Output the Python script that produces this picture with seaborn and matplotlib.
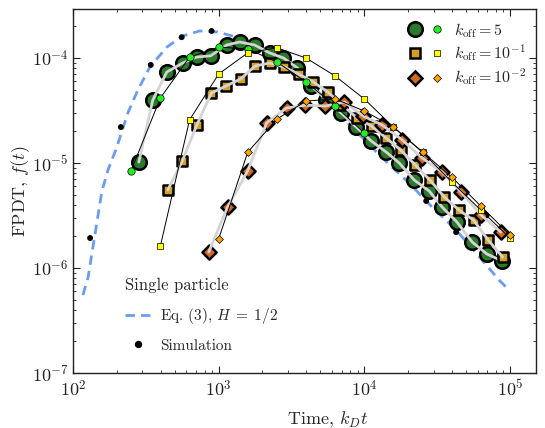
import numpy as np
import pandas as pd
import matplotlib
matplotlib.use("Agg")
import matplotlib.pyplot as plt
import seaborn as sns
from matplotlib.ticker import LogLocator, FuncFormatter, NullFormatter
from matplotlib.legend_handler import HandlerTuple
from matplotlib.lines import Line2D

# ---------------- data ----------------
# Eq. (3), H = 1/2  (single particle theory)
theory_t = [117, 127, 137, 158, 174, 200, 238, 279, 337, 441, 566, 741, 984, 1327,
            1910, 2620, 3590, 4920, 6950, 13100, 20300, 29200, 42700, 58500, 84100, 98500]
theory_f = [5.53e-7, 8.2e-7, 1.58e-6, 5.4e-6, 8.6e-6, 1.42e-5, 3.0e-5, 4.96e-5, 8.2e-5,
            1.27e-4, 1.62e-4, 1.81e-4, 1.77e-4, 1.58e-4, 1.27e-4, 9.57e-5, 7.04e-5,
            4.64e-5, 2.8e-5, 1.14e-5, 6.45e-6, 3.81e-6, 2.3e-6, 1.39e-6, 7.7e-7, 6.17e-7]

# single particle simulation
sim_t = [131, 213, 342, 558, 895, 26600, 42700]
sim_f = [1.93e-6, 2.2e-5, 8.6e-5, 1.58e-4, 1.81e-4, 4.35e-6, 2.2e-6]

# k_off = 5 : big markers
k5_big_t = [283, 353, 441, 566, 706, 881, 1134, 1393, 1765, 2235, 2787, 3477, 4337,
            5495, 6950, 8810, 11170, 14160, 17380, 22000, 27900, 34200, 43300, 55000,
            69500, 88100]
k5_big_f = [1.02e-5, 3.98e-5, 7.36e-5, 8.96e-5, 1.02e-4, 1.05e-4, 1.33e-4, 1.42e-4,
            1.33e-4, 1.12e-4, 1.0e-4, 8.03e-5, 5.41e-5, 3.98e-5, 2.99e-5, 2.2e-5,
            1.62e-5, 1.27e-5, 1.0e-5, 6.89e-6, 5.41e-6, 3.81e-6, 2.74e-6, 1.77e-6,
            1.36e-6, 1.17e-6]
# k_off = 5 : small markers
k5_small_t = [250, 398, 631, 1000, 1585, 2512, 3981, 6310, 10000]
k5_small_f = [8.4e-6, 4.16e-5, 1.02e-4, 1.27e-4, 1.22e-4, 9.16e-5, 5.91e-5, 3.49e-5, 1.93e-5]

# k_off = 1e-1 : big markers
k1_big_t = [447, 562, 708, 891, 1122, 1413, 1778, 2239, 2818, 3548, 4467, 5623, 7079,
            8913, 11220, 14125, 17783, 22387, 28184, 35481, 44668, 56234, 70795, 89125]
k1_big_f = [5.53e-6, 1.04e-5, 2.3e-5, 4.64e-5, 5.41e-5, 6.31e-5, 8.39e-5, 8.96e-5,
            8.2e-5, 7.04e-5, 5.91e-5, 4.74e-5, 3.56e-5, 2.68e-5, 2.25e-5, 1.73e-5,
            1.33e-5, 9.57e-6, 6.89e-6, 4.74e-6, 3.56e-6, 2.86e-6, 1.85e-6, 1.27e-6]
# k_off = 1e-1 : small markers
k1_small_t = [398, 631, 1000, 1585, 2512, 3981, 6310, 10000, 15850, 25120, 39810, 63100, 100000]
k1_small_f = [1.62e-6, 2.57e-5, 7.04e-5, 1.12e-4, 1.25e-4, 1.0e-4, 6.74e-5, 4.07e-5,
              2.2e-5, 1.27e-5, 6.59e-6, 3.56e-6, 1.93e-6]

# k_off = 1e-2 : big markers
k2_big_t = [855, 1153, 1581, 2134, 2924, 3945, 5409, 7295, 9843, 13280, 18200, 24900,
            34200, 46100, 63200, 86700]
k2_big_f = [1.42e-6, 3.81e-6, 8.4e-6, 2.41e-5, 3.34e-5, 3.56e-5, 3.49e-5, 3.81e-5,
            2.8e-5, 2.3e-5, 1.66e-5, 1.12e-5, 8.2e-6, 5.3e-6, 3.2e-6, 2.2e-6]
# k_off = 1e-2 : small markers
k2_small_t = [1000, 1585, 2512, 3981, 6310, 10000, 15850, 25120, 39810, 63100, 100000]
k2_small_f = [1.89e-6, 1.27e-5, 2.62e-5, 3.89e-5, 4.07e-5, 3.13e-5, 2.2e-5, 1.27e-5,
              7.36e-6, 3.89e-6, 2.06e-6]

legend_labels = [r"$k_{\rm off} = 5$", r"$k_{\rm off} = 10^{-1}$", r"$k_{\rm off} = 10^{-2}$"]

# ---------------- style ----------------
sns.set_theme(style="ticks")
plt.rcParams.update({
    "font.family": ["cmr10", "DejaVu Serif"],
    "mathtext.fontset": "cm",
    "axes.formatter.use_mathtext": True,
    "axes.unicode_minus": False,
    "xtick.direction": "in", "ytick.direction": "in",
    "xtick.top": True, "ytick.right": True,
    "axes.edgecolor": "#222222", "axes.linewidth": 1.0,
})

fig = plt.figure(figsize=(5.45, 4.28), dpi=100)
ax = fig.add_axes([73 / 545, 1 - 373 / 428, (536 - 73) / 545, (373 - 9) / 428])
ax.set_xscale("log")
ax.set_yscale("log")

DASH = (0, (3.4, 2.2))
BLUE = "#6a9cf0"
# theory dashed
sns.lineplot(x=theory_t, y=theory_f, ax=ax, sort=False, estimator=None,
             color=BLUE, lw=2.0, linestyle=DASH, zorder=2, legend=False)
# simulation dots
sns.scatterplot(x=sim_t, y=sim_f, ax=ax, color="black", s=18, edgecolor="none",
                zorder=2.5, legend=False)

GRAY = "#d4d4d4"
series = [
    (k5_big_t, k5_big_f, "o", 110, "#2b7a2b", k5_small_t, k5_small_f, "o", 28, "#22ee22"),
    (k1_big_t, k1_big_f, "s", 58, "#d4a020", k1_small_t, k1_small_f, "s", 14, "#ffff00"),
    (k2_big_t, k2_big_f, "D", 52, "#d2691e", k2_small_t, k2_small_f, "D", 16, "#ffa500"),
]
z = 3
for bt, bf, bm, bs, bc, st, sf, sm, ss, sc in series:
    sns.scatterplot(x=bt, y=bf, ax=ax, marker=bm, s=bs, color=bc, edgecolor="black",
                    linewidth=1.8, zorder=z, legend=False)
    sns.lineplot(x=bt, y=bf, ax=ax, sort=False, estimator=None, color=GRAY, lw=2.0,
                 zorder=z + 0.1, legend=False)
    z += 0.2
for bt, bf, bm, bs, bc, st, sf, sm, ss, sc in series:
    sns.lineplot(x=st, y=sf, ax=ax, sort=False, estimator=None, color="black", lw=0.7,
                 zorder=5, legend=False)
    sns.scatterplot(x=st, y=sf, ax=ax, marker=sm, s=ss, color=sc, edgecolor="black",
                    linewidth=0.5, zorder=6, legend=False)

# axes
ax.set_xlim(100, 1.51e5)
ax.set_ylim(1e-7, 2.93e-4)
ax.xaxis.set_major_locator(LogLocator(base=10, numticks=10))
ax.yaxis.set_major_locator(LogLocator(base=10, numticks=10))
ax.xaxis.set_minor_locator(LogLocator(base=10, subs=np.arange(2, 10), numticks=20))
ax.yaxis.set_minor_locator(LogLocator(base=10, subs=np.arange(2, 10), numticks=20))
fmt = FuncFormatter(lambda v, p: r"$10^{%d}$" % int(round(np.log10(v))))
ax.xaxis.set_major_formatter(fmt)
ax.yaxis.set_major_formatter(fmt)
ax.xaxis.set_minor_formatter(NullFormatter())
ax.yaxis.set_minor_formatter(NullFormatter())
ax.tick_params(which="major", length=5, width=0.8, labelsize=13, pad=4, colors="#222222")
ax.tick_params(which="minor", length=2.5, width=0.6, colors="#222222")
ax.tick_params(axis="y", which="major", pad=3)

ax.set_xlabel(r"Time, $k_D t$", fontsize=13)
ax.set_ylabel(r"FPDT, $f(t)$", fontsize=13)
ax.xaxis.set_label_coords(0.55, -0.10)
ax.yaxis.set_label_coords(-0.088, 0.5)

# legend 1 (k_off)
handles1 = []
for bt, bf, bm, bs, bc, st, sf, sm, ss, sc in series:
    hb = Line2D([], [], ls="none", marker=bm, markersize=np.sqrt(bs), mfc=bc, mec="black", mew=1.8)
    hs = Line2D([], [], ls="none", marker=sm, markersize=np.sqrt(ss), mfc=sc, mec="black", mew=0.5)
    handles1.append((hb, hs))
leg1 = ax.legend(handles1, legend_labels, handler_map={tuple: HandlerTuple(ndivide=None, pad=0.3)},
                 loc="upper left", bbox_to_anchor=(0.69, 1.007), frameon=False, fontsize=11.5,
                 handlelength=2.4, handletextpad=0.55, labelspacing=0.2, borderpad=0.4)
ax.add_artist(leg1)

# legend 2 (single particle)
h_th = Line2D([], [], color=BLUE, lw=2.0, linestyle=DASH)
h_sim = Line2D([], [], ls="none", marker="o", color="black", markersize=4.3)
leg2 = ax.legend([h_th, h_sim], [r"Eq. (3), $H\;=\;1/2$", "Simulation"], title="Single particle",
                 loc="lower left", bbox_to_anchor=(0.082, 0.018), frameon=False, fontsize=11,
                 title_fontsize=12, alignment="left", handlelength=1.7, handletextpad=0.6,
                 labelspacing=0.85, borderpad=0.4)

fig.savefig("out.png", dpi=100, facecolor="white")
